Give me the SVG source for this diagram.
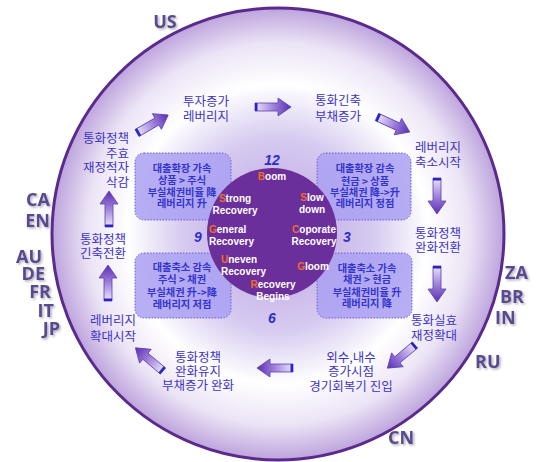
<svg xmlns="http://www.w3.org/2000/svg" width="550" height="462" viewBox="0 0 550 462">
<defs>
<radialGradient id="ring" cx="278" cy="234" r="227" gradientUnits="userSpaceOnUse">
<stop offset="0" stop-color="#b9a2e0"/>
<stop offset="0.42" stop-color="#d6caf0"/>
<stop offset="0.66" stop-color="#ffffff"/>
<stop offset="0.84" stop-color="#ece4f6"/>
<stop offset="1" stop-color="#bca2dc"/>
</radialGradient>
<linearGradient id="arrowGrad" x1="0" y1="0" x2="36" y2="0" gradientUnits="userSpaceOnUse">
<stop offset="0" stop-color="#ece6fa"/>
<stop offset="0.55" stop-color="#9a7ad8"/>
<stop offset="1" stop-color="#5a2eb0"/>
</linearGradient>
<g id="arrow">
<path d="M0,-4 L23,-4 L23,-9 L36,0 L23,9 L23,4 L0,4 Z" fill="url(#arrowGrad)" stroke="#5840b8" stroke-width="0.8"/>
<rect x="0" y="-4" width="2.5" height="8" fill="#2a24c8"/>
</g>
<filter id="shadow" x="-20%" y="-20%" width="150%" height="150%">
<feDropShadow dx="1.5" dy="1.5" stdDeviation="0.8" flood-color="#9a96a8" flood-opacity="0.8"/>
</filter>
</defs>
<style>
.ko{font-family:"Noto Sans CJK KR","Noto Sans",sans-serif;font-size:12.5px;fill:#3c34c4;text-anchor:middle}
.ko.r{text-anchor:end}
.bx{font-family:"Noto Sans CJK KR","Noto Sans",sans-serif;font-size:10.2px;font-weight:bold;fill:#3434cc;text-anchor:middle}
.box{fill:#aaa0f2;fill-opacity:0.85;stroke:#6a5ed8;stroke-width:1;stroke-dasharray:1.5 1.5}
.en{font-family:"Liberation Sans","Noto Sans",sans-serif;font-size:10px;font-weight:bold;fill:#ffffff;text-anchor:middle}
.en.l{text-anchor:start}
.en tspan.f{fill:#f26a2a}
.num{font-family:"Liberation Sans",sans-serif;font-size:14px;font-weight:bold;font-style:italic;fill:#2f2fc4;text-anchor:middle}
.cty{font-family:"Open Sans","Liberation Sans",sans-serif;font-size:18px;font-weight:bold;fill:#5a4890;filter:url(#shadow)}
.cty.e{text-anchor:end}
.cty.m{text-anchor:middle}
</style>
<rect width="550" height="462" fill="#ffffff"/>
<g id="outer-ring">
<circle cx="278" cy="234" r="226" fill="url(#ring)" stroke="#5a2a8c" stroke-width="3"/>
</g>
<g id="boxes">
<g id="box-tl"><rect class="box" x="135" y="153" width="96" height="67" rx="9"/></g>
<g id="box-tr"><rect class="box" x="317" y="153" width="94" height="67" rx="9"/></g>
<g id="box-bl"><rect class="box" x="135" y="253" width="96" height="65" rx="9"/></g>
<g id="box-br"><rect class="box" x="317" y="253" width="95" height="65" rx="9"/></g>
</g>
<g id="inner-circle">
<circle cx="272" cy="233" r="65" fill="#6b2f9b"/>
</g>
<g id="box-texts">
<text class="bx" y="172"><tspan x="182">대출확장 가속</tspan><tspan x="182" dy="12">상품 &gt; 주식</tspan><tspan x="182" dy="12">부실채권비율 降</tspan><tspan x="182" dy="11">레버리지 升</tspan></text>
<text class="bx" y="172"><tspan x="365">대출확장 감속</tspan><tspan x="365" dy="13">현금 &gt; 상품</tspan><tspan x="365" dy="11">부실채권 降-&gt;升</tspan><tspan x="365" dy="11">레버리지 정점</tspan></text>
<text class="bx" y="271"><tspan x="182">대출축소 감속</tspan><tspan x="182" dy="12">주식 &gt; 채권</tspan><tspan x="182" dy="13">부실채권 升-&gt;降</tspan><tspan x="182" dy="12">레버리지 저점</tspan></text>
<text class="bx" y="272"><tspan x="367">대출축소 가속</tspan><tspan x="367" dy="11">채권 &gt; 현금</tspan><tspan x="367" dy="13">부실채권비율 升</tspan><tspan x="367" dy="11">레버리지 降</tspan></text>
</g>
<g id="clock">
<text class="num" x="272" y="165">12</text>
<text class="num" x="347" y="242">3</text>
<text class="num" x="272" y="323">6</text>
<text class="num" x="198" y="242">9</text>
</g>
<g id="phases">
<text class="en" x="272" y="180"><tspan class="f">B</tspan>oom</text>
<text class="en" y="202"><tspan x="235" class="f">S</tspan>trong<tspan x="235" dy="12">Recovery</tspan></text>
<text class="en" y="201"><tspan x="312" class="f">S</tspan>low<tspan x="312" dy="12">down</tspan></text>
<text class="en l" y="233"><tspan x="209" class="f">G</tspan>eneral<tspan x="209" dy="12">Recovery</tspan></text>
<text class="en" y="233"><tspan x="314" class="f">C</tspan>oporate<tspan x="314" dy="12">Recovery</tspan></text>
<text class="en l" y="263"><tspan x="221" class="f">U</tspan>neven<tspan x="221" dy="12">Recovery</tspan></text>
<text class="en" x="313" y="270"><tspan class="f">G</tspan>loom</text>
<text class="en" y="288"><tspan x="273" class="f">R</tspan>ecovery<tspan x="273" dy="12">Begins</tspan></text>
</g>
<g id="stages">
<g id="s1"><text class="ko" y="106"><tspan x="206">투자증가</tspan><tspan x="206" dy="15">레버리지</tspan></text></g>
<g id="s2"><text class="ko" y="105"><tspan x="338">통화긴축</tspan><tspan x="338" dy="16">부채증가</tspan></text></g>
<g id="s3"><text class="ko" y="152"><tspan x="438">레버리지</tspan><tspan x="438" dy="15">축소시작</tspan></text></g>
<g id="s4"><text class="ko" y="238"><tspan x="438">통화정책</tspan><tspan x="438" dy="14">완화전환</tspan></text></g>
<g id="s5"><text class="ko" y="325"><tspan x="434">통화실효</tspan><tspan x="434" dy="15">재정확대</tspan></text></g>
<g id="s6"><text class="ko" y="362"><tspan x="351">외수,내수</tspan><tspan x="351" dy="14">증가시점</tspan><tspan x="351" dy="15">경기회복기 진입</tspan></text></g>
<g id="s7"><text class="ko" y="362"><tspan x="198">통화정책</tspan><tspan x="198" dy="14">완화유지</tspan><tspan x="198" dy="14">부채증가 완화</tspan></text></g>
<g id="s8"><text class="ko" y="325"><tspan x="113">레버리지</tspan><tspan x="113" dy="16">확대시작</tspan></text></g>
<g id="s9"><text class="ko" y="244"><tspan x="103">통화정책</tspan><tspan x="103" dy="14">긴축전환</tspan></text></g>
<g id="s10"><text class="ko r" y="143"><tspan x="129">통화정책</tspan><tspan x="129" dy="15">주효</tspan><tspan x="129" dy="14">재정적자</tspan><tspan x="129" dy="15">삭감</tspan></text></g>
</g>
<g id="connectors">
<use href="#arrow" transform="translate(255,107)"/>
<use href="#arrow" transform="translate(377,117) rotate(24.6)"/>
<use href="#arrow" transform="translate(437,178) rotate(90)"/>
<use href="#arrow" transform="translate(437,266) rotate(90)"/>
<use href="#arrow" transform="translate(415,345) rotate(140)"/>
<use href="#arrow" transform="translate(293,368) rotate(180)"/>
<use href="#arrow" transform="translate(163,371) rotate(220)"/>
<use href="#arrow" transform="translate(108,301) rotate(-90)"/>
<use href="#arrow" transform="translate(109,227) rotate(-90)"/>
<use href="#arrow" transform="translate(137,133) rotate(-30)"/>
</g>
<g id="countries">
<text class="cty m" x="165" y="28">US</text>
<text class="cty e" x="50" y="206">CA</text>
<text class="cty e" x="50" y="227">EN</text>
<text class="cty e" x="42" y="263">AU</text>
<text class="cty e" x="45" y="280">DE</text>
<text class="cty e" x="51" y="298">FR</text>
<text class="cty e" x="54" y="317">IT</text>
<text class="cty e" x="60" y="335">JP</text>
<text class="cty" x="505" y="279">ZA</text>
<text class="cty" x="500" y="303">BR</text>
<text class="cty" x="495" y="324">IN</text>
<text class="cty" x="475" y="368">RU</text>
<text class="cty" x="388" y="444">CN</text>
</g>
</svg>
